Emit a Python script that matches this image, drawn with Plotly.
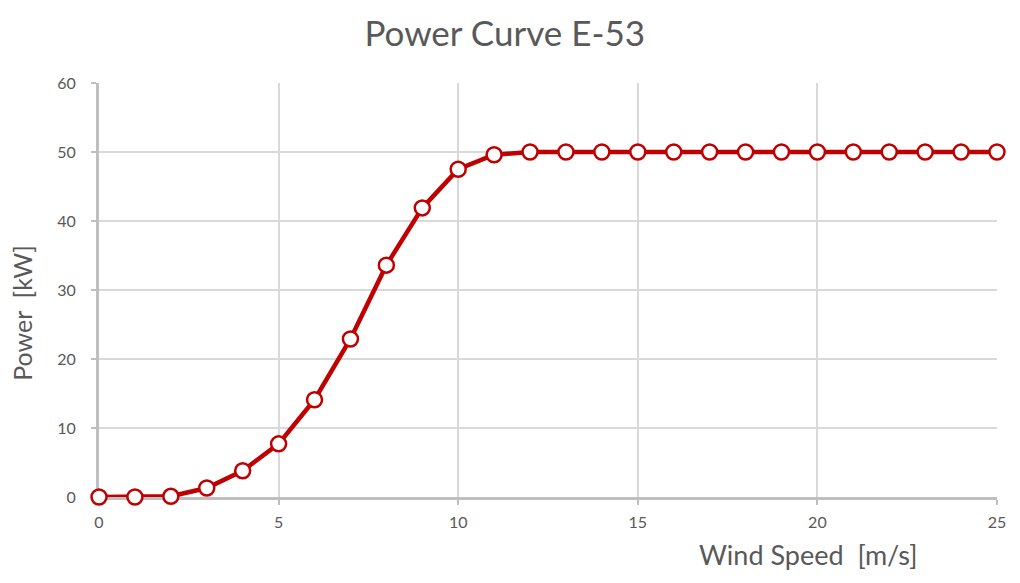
import plotly.graph_objects as go

# Power curve of the E-53 turbine
wind_speed = list(range(0, 26))
power_kw = [0, 0, 0.1, 1.3, 3.8, 7.7, 14.1, 22.9, 33.6, 41.9, 47.5, 49.6,
            50, 50, 50, 50, 50, 50, 50, 50, 50, 50, 50, 50, 50, 50]

red = "#C00000"
grey_txt = "#595959"
font = "Lato"

fig = go.Figure()
fig.add_trace(go.Scatter(
    x=wind_speed, y=power_kw, mode="lines+markers",
    line=dict(color=red, width=4.5),
    marker=dict(size=15, color="white", line=dict(color=red, width=2.5)),
    cliponaxis=False, showlegend=False,
))

# page renders ~7px down/right, so margins are shifted to compensate
fig.update_layout(
    width=1020, height=583,
    margin=dict(l=91, r=31, t=75, b=94),
    paper_bgcolor="white", plot_bgcolor="white",
    font=dict(family=font, color=grey_txt),
    title=dict(text="Power Curve E-53", x=0.487, xanchor="center",
               y=0.955, yanchor="middle",
               font=dict(size=35, family=font, color=grey_txt)),
)
fig.update_xaxes(
    range=[0, 25], tickvals=[0, 5, 10, 15, 20, 25],
    showgrid=True, gridcolor="#d9d9d9", gridwidth=2,
    showline=True, linecolor="#bfbfbf", linewidth=3,
    ticks="outside", ticklen=5, tickcolor="#bfbfbf", tickwidth=2,
    tickfont=dict(size=16, color=grey_txt), zeroline=False,
    ticklabelstandoff=4, layer="below traces",
)
fig.update_yaxes(
    range=[0, 60], tickvals=[0, 10, 20, 30, 40, 50, 60],
    showgrid=True, gridcolor="#d9d9d9", gridwidth=2,
    showline=True, linecolor="#bfbfbf", linewidth=3,
    ticks="outside", ticklen=5, tickcolor="#bfbfbf", tickwidth=2,
    tickfont=dict(size=16, color=grey_txt), zeroline=False,
    ticklabelstandoff=12, layer="below traces",
)
fig.add_annotation(text="Wind Speed  [m/s]", xref="paper", yref="paper",
                   x=0.79, y=-0.138, showarrow=False,
                   font=dict(size=27, color=grey_txt),
                   xanchor="center", yanchor="middle")
fig.add_annotation(text="Power  [kW]", xref="paper", yref="paper",
                   x=-0.085, y=0.444, showarrow=False, textangle=-90,
                   font=dict(size=25, color=grey_txt),
                   xanchor="center", yanchor="middle")

fig.write_html("out.html")
